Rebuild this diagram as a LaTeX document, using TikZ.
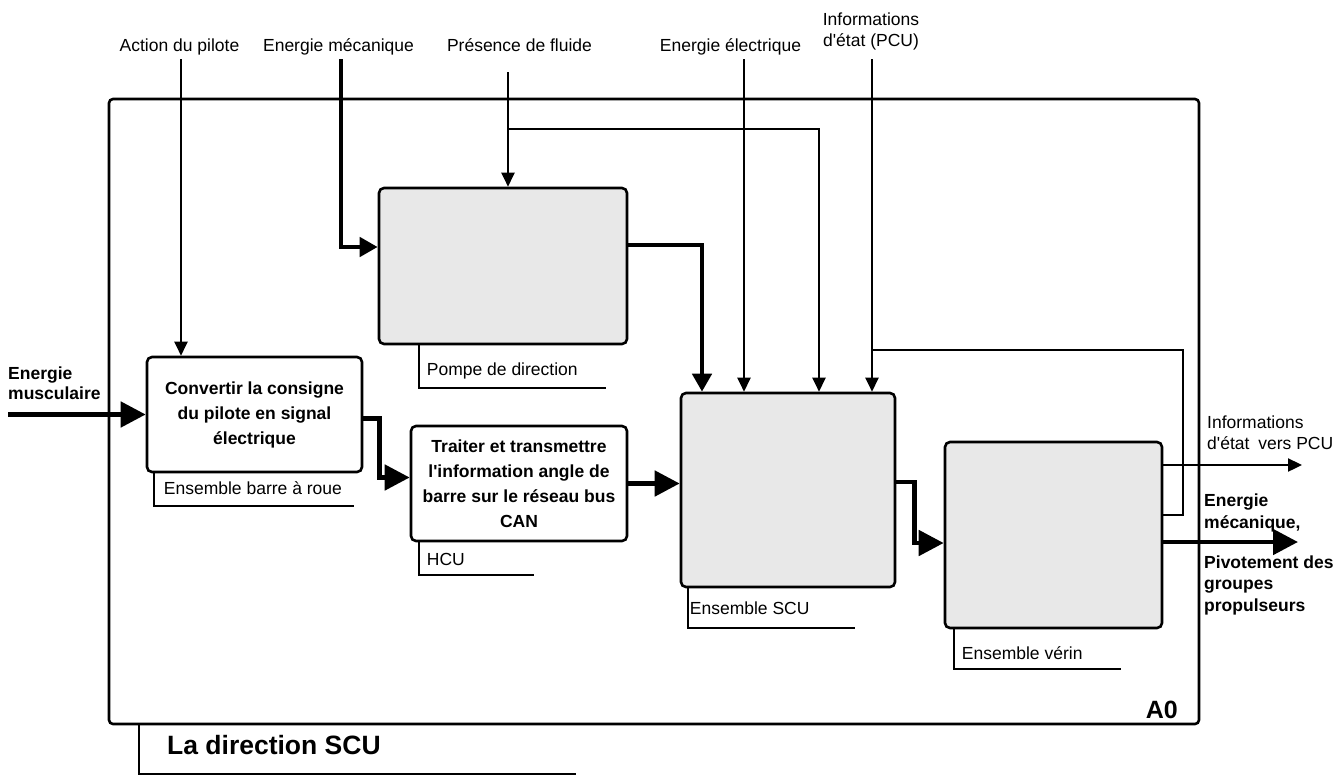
\documentclass[tikz,border=0pt]{standalone}
\usepackage{fontspec}
\setmainfont{Liberation Sans}
\usepackage{tikz}
\usetikzlibrary{arrows.meta,positioning}
\tikzstyle{every node}=[font=\fontsize{17.5}{21}\selectfont]
\tikzstyle{boite}=[draw,line width=2.6pt,rounded corners=5pt,inner sep=0pt,align=center,font=\bfseries\fontsize{17.5}{25}\selectfont]
\tikzstyle{grise}=[boite,fill=gray!18]
\tikzstyle{cadre}=[draw,line width=2.6pt,rounded corners=4pt,inner sep=0pt]
\tikzstyle{etiq}=[inner sep=0pt,align=left]
\tikzstyle{gras}=[etiq,font=\bfseries\fontsize{17.5}{22}\selectfont]
\tikzstyle{trait}=[line width=2.3pt]
\tikzstyle{fin}=[line width=2.3pt,-{Triangle[length=14pt,width=13pt]}]
\tikzstyle{epais}=[line width=4.8pt,-{Triangle[length=25pt,width=25pt]}]
\tikzstyle{epaisb}=[line width=4.8pt,-{Triangle[length=18pt,width=19pt]}]

\begin{document}
\begin{tikzpicture}[x=1pt,y=-1pt]
  \useasboundingbox (0,0) rectangle (1340,774);
  % cadre A0
  \node[cadre,minimum width=1090pt,minimum height=625pt] (a0) at (654,411.5) {};
  \node[inner sep=0pt,anchor=base east,font=\bfseries\fontsize{25}{25}\selectfont] (lblA0) at (1178,718) {A0};
  \draw[trait] ([xshift=31pt]a0.south west) |- ++(437,49);
  \node[inner sep=0pt,anchor=base west,font=\bfseries\fontsize{26.5}{26.5}\selectfont] (titre) at (167,754) {La direction SCU};

  % boites
  \node[boite,minimum width=215pt,minimum height=115pt] (conv) at (254.5,414.5) {Convertir la consigne\\du pilote en signal\\électrique};
  \node[grise,minimum width=248pt,minimum height=156pt] (pompe) at (503,266) {};
  \node[boite,minimum width=216pt,minimum height=115pt] (hcu) at (519,483.5) {Traiter et transmettre\\l\textquotesingle information angle de\\barre sur le réseau bus\\CAN};
  \node[grise,minimum width=214pt,minimum height=194pt] (scu) at (788,490) {};
  \node[grise,minimum width=217pt,minimum height=186pt] (verin) at (1053.5,535) {};

  % mecanismes
  \draw[trait] ([xshift=8pt]conv.south west) |- ++(200,33);
  \node[etiq,anchor=base west] (lblBarre) at ([xshift=18pt,yshift=-21pt]conv.south west) {Ensemble barre à roue};
  \draw[trait] ([xshift=41pt]pompe.south west) |- ++(187,43);
  \node[etiq,anchor=base west] (lblPompe) at ([xshift=49pt,yshift=-30pt]pompe.south west) {Pompe de direction};
  \draw[trait] ([xshift=9pt]hcu.south west) |- ++(115,33);
  \node[etiq,anchor=base west] (lblHcu) at ([xshift=17pt,yshift=-23pt]hcu.south west) {HCU};
  \draw[trait] ([xshift=8pt]scu.south west) |- ++(167,40);
  \node[etiq,anchor=base west] (lblScu) at ([xshift=10pt,yshift=-26pt]scu.south west) {Ensemble SCU};
  \draw[trait] ([xshift=10pt]verin.south west) |- ++(167,40);
  \node[etiq,anchor=base west] (lblVerin) at ([xshift=18pt,yshift=-30pt]verin.south west) {Ensemble vérin};

  % entrees
  \node[etiq,anchor=base] (lblAction) at (179.5,51) {Action du pilote};
  \node[etiq,anchor=base] (lblMeca) at (338.5,51) {Energie mécanique};
  \node[etiq,anchor=base] (lblFluide) at (519.5,51) {Présence de fluide};
  \node[etiq,anchor=base] (lblElec) at (730.5,51) {Energie électrique};
  \node[etiq,align=center] (lblInfo) at (871,31.5) {Informations\\d\textquotesingle état (PCU)};
  \node[gras,anchor=west,font=\bfseries\fontsize{17.5}{20.5}\selectfont] (lblMusc) at (8,383) {Energie\\musculaire};
  \coordinate (inAction) at (181,59);
  \coordinate (inMeca) at (341,59);
  \coordinate (inFluide) at (508,72);
  \coordinate (jFluide) at (508,129);
  \coordinate (inElec) at (744,59);
  \coordinate (inInfo) at (872,59);
  \coordinate (jInfo) at (872,350);
  \coordinate (inMusc) at (8,414.5);

  \draw[fin] (inAction) -- (inAction |- conv.north);
  \draw[epaisb] (inMeca) |- ([yshift=19pt]pompe.west);
  \draw[fin] (inFluide) -- (inFluide |- pompe.north);
  \draw[fin] (jFluide) -| ([xshift=31pt]scu.north);
  \draw[fin] (inElec) -- (inElec |- scu.north);
  \draw[fin] (inInfo) -- (inInfo |- scu.north);
  \draw[trait] (jInfo) -| ([xshift=20pt,yshift=20pt]verin.east) -- ([yshift=20pt]verin.east);
  \draw[epais] (inMusc) -- (conv.west);

  % liaisons
  \draw[epais] ([yshift=-4pt]conv.east) -- ++(16,0) |- ([yshift=6pt]hcu.west);
  \draw[epaisb] ([yshift=21pt]pompe.east) -| ([xshift=-86pt]scu.north);
  \draw[epais] (hcu.east) -- (hcu.east -| scu.west);
  \draw[epais] ([yshift=8pt]scu.east) -- ++(18,0) |- ([yshift=-8pt]verin.west);

  % sorties
  \coordinate (outInfo) at (1302,465);
  \coordinate (outMeca) at (1298,542);
  \draw[fin] (verin.east |- outInfo) -- (outInfo);
  \draw[epais] (verin.east |- outMeca) -- (outMeca);
  \node[etiq,anchor=west] (lblOutInfo) at (1207,432.4) {Informations\\d\textquotesingle état\hspace{4pt} vers PCU};
  \node[gras,anchor=west] (lblOutMeca) at (1204,513) {Energie\\mécanique,};
  \node[gras,anchor=west,font=\bfseries\fontsize{17.5}{21.5}\selectfont] (lblPivot) at (1204,585) {Pivotement des\\groupes\\propulseurs};
\end{tikzpicture}
\end{document}
